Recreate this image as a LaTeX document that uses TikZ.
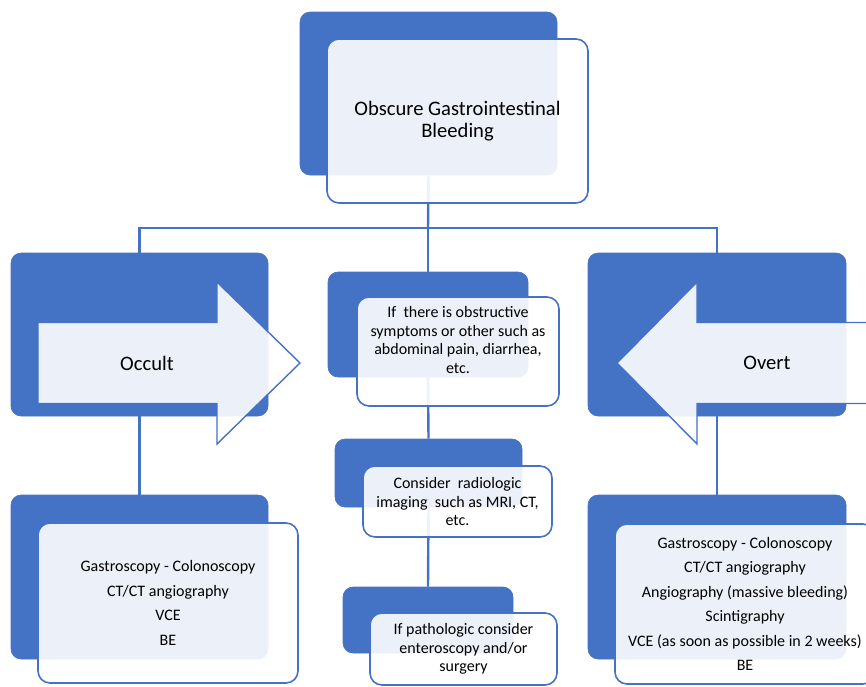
\documentclass[tikz,border=0pt]{standalone}
\usepackage{fontspec}
\setmainfont{Carlito}
\definecolor{accblue}{HTML}{4472C4}
\tikzset{
  bluebox/.style={fill=accblue, draw=accblue, line width=0.6pt, rounded corners=10pt, inner sep=0pt},
  lightbox/.style={fill=white, fill opacity=0.9, text opacity=1, draw=accblue, line width=1.6pt, rounded corners=12pt, inner sep=0pt, align=center, text=black},
  lightarrow/.style={fill=white, fill opacity=0.9, draw=accblue, line width=1.4pt, line join=miter},
  conn/.style={draw=accblue, line width=2.4pt},
  bigtext/.style={font=\fontsize{20.6}{22}\selectfont},
  midtext/.style={font=\fontsize{16}{18.5}\selectfont},
  listtext/.style={font=\fontsize{16}{24.5}\selectfont},
}
\begin{document}
\begin{tikzpicture}[x=1pt,y=-1pt]
\useasboundingbox (0,0) rectangle (866,686);
\clip (0,0) rectangle (866,686);
% blue backing boxes
\node[bluebox, minimum width=257pt, minimum height=163pt] (tb) at (428.5,93.5) {};
\node[bluebox, minimum width=257pt, minimum height=163pt] (lb) at (139.5,334.5) {};
\node[bluebox, minimum width=258pt, minimum height=163pt] (rb) at (717,334.5) {};
\node[bluebox, minimum width=200pt, minimum height=105pt] (m1b) at (428,324.5) {};
\node[bluebox, minimum width=187pt, minimum height=68pt] (m2b) at (428.5,473) {};
\node[bluebox, minimum width=170pt, minimum height=66pt] (m3b) at (428,620) {};
\node[bluebox, minimum width=257pt, minimum height=164pt] (llb) at (139.5,577) {};
\node[bluebox, minimum width=258pt, minimum height=164pt] (lrb) at (717,577) {};
% connectors
\coordinate (j) at (428,228);
\draw[conn] (tb.south) -- (j);
\draw[conn] (lb.north) |- (j) -| (rb.north);
\draw[conn] (j) -- (m1b.north);
\draw[conn] (lb.south) -- (llb.north);
\draw[conn] (rb.south) -- (lrb.north);
\draw[conn] (m1b.south) -- (m2b.north);
\draw[conn] (m2b.south) -- (m3b.north);
% light boxes
\node[lightbox, bigtext, minimum width=261pt, minimum height=164pt] (tl) at (457.5,121) {Obscure Gastrointestinal\\Bleeding};
\node[lightbox, midtext, minimum width=202pt, minimum height=109pt] (m1l) at (458,351.5) {};
\node[midtext, align=center] (m1t) at (458,340) {If\ \ there is obstructive\\symptoms or other such as\\abdominal pain, diarrhea,\\etc.};
\node[lightbox, midtext, minimum width=189pt, minimum height=71pt] (m2l) at (457.5,501.5) {Consider\ \ radiologic\\imaging\ \ such as MRI, CT,\\etc.};
\node[lightbox, midtext, minimum width=187pt, minimum height=72pt] (m3l) at (463.5,649) {If pathologic consider\\enteroscopy and/or\\surgery};
\node[lightbox, listtext, minimum width=260pt, minimum height=160pt] (lll) at (168,603) {Gastroscopy - Colonoscopy\\CT/CT angiography\\VCE\\BE};
\node[lightbox, listtext, minimum width=260pt, minimum height=160pt] (lrl) at (745,604) {Gastroscopy - Colonoscopy\\CT/CT angiography\\Angiography (massive bleeding)\\Scintigraphy\\VCE (as soon as possible in 2 weeks)\\BE};
% arrows
\draw[lightarrow] (38,322.5) -- (217,322.5) -- (217,282) -- (300,363) -- (217,444) -- (217,403.5) -- (38,403.5) -- cycle;
\node[bigtext] (occ) at (147,363) {Occult};
\draw[lightarrow] (900,322.5) -- (697,322.5) -- (697,282) -- (617,363) -- (697,444) -- (697,403.5) -- (900,403.5) -- cycle;
\node[bigtext] (ovt) at (767,363) {Overt};
\end{tikzpicture}
\end{document}
